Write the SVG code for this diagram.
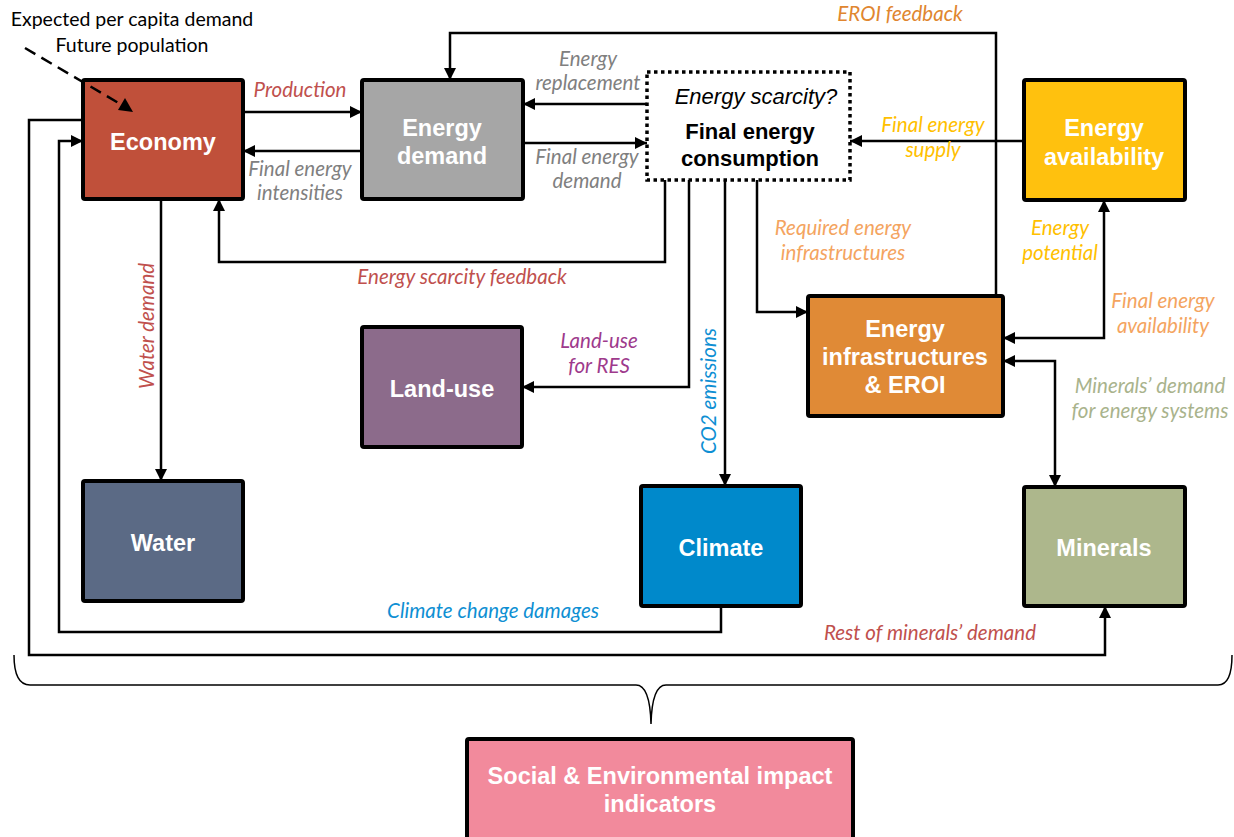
<svg xmlns="http://www.w3.org/2000/svg" width="1234" height="837" viewBox="0 0 1234 837">
<defs>
<marker id="ah" viewBox="0 0 12 12" refX="12" refY="6" markerWidth="12" markerHeight="12" markerUnits="userSpaceOnUse" orient="auto-start-reverse">
<path d="M0,0 L12,6 L0,12 z" fill="#000"/>
</marker>
<style>
.box{stroke:#000;stroke-width:4}
.bt{font-family:"Liberation Sans",Arial,sans-serif;font-weight:bold;font-size:23.5px;fill:#fff;text-anchor:middle}
.lbl{font-family:Lato,"Open Sans",sans-serif;font-style:italic;font-size:20.5px;text-anchor:middle}
.plain{font-family:Lato,"Open Sans",sans-serif;font-size:19.5px;fill:#000;text-anchor:middle}
.ln{fill:none;stroke:#000;stroke-width:2.5}
.red{fill:#C0504D}.gray{fill:#808080}.org{fill:#E0862F}.yel{fill:#FFC000}.lorg{fill:#F4A460}.pur{fill:#9E3A8C}.blu{fill:#0E8FD3}.grn{fill:#A9B38C}
</style>
</defs>
<rect width="1234" height="837" fill="#fff"/>

<g id="connectors">
<path class="ln" marker-end="url(#ah)" d="M243,112 H362"/>
<path class="ln" marker-end="url(#ah)" d="M362,151 H243"/>
<path class="ln" marker-end="url(#ah)" d="M647,104 H523"/>
<path class="ln" marker-end="url(#ah)" d="M523,143 H647"/>
<path class="ln" marker-end="url(#ah)" d="M996,296 V33 H450 V80"/>
<path class="ln" marker-end="url(#ah)" d="M1024,141 H850"/>
<path class="ln" marker-end="url(#ah)" d="M665,180 V262 H219 V199"/>
<path class="ln" marker-end="url(#ah)" d="M161,199 V481"/>
<path class="ln" marker-end="url(#ah)" d="M689,180 V387 H522"/>
<path class="ln" marker-end="url(#ah)" d="M725,180 V486"/>
<path class="ln" marker-end="url(#ah)" d="M757,180 V312 H808"/>
<path class="ln" marker-start="url(#ah)" marker-end="url(#ah)" d="M1003,338 H1104 V200"/>
<path class="ln" marker-start="url(#ah)" marker-end="url(#ah)" d="M1003,361 H1055 V487"/>
<path class="ln" marker-end="url(#ah)" d="M721,606 V632 H59 V141 H83"/>
<path class="ln" marker-end="url(#ah)" d="M83,120 H29 V655 H1105 V606"/>
<path fill="none" stroke="#000" stroke-width="1.5" d="M14,655 Q14,685 30,685 H636 Q650,685 651,724 Q652,685 666,685 H1218 Q1232,685 1232,655"/>
</g>

<text class="plain" x="132" y="26">Expected per capita demand</text>
<text class="plain" x="132" y="52">Future population</text>

<g id="economy"><rect class="box" x="83" y="80" width="160" height="119" rx="2" fill="#C0503A"/><text class="bt" x="163" y="150">Economy</text></g>
<g id="energy-demand"><rect class="box" x="362" y="80" width="161" height="119" rx="2" fill="#A6A6A6"/><text class="bt" x="442" y="136">Energy</text><text class="bt" x="442" y="164">demand</text></g>
<g id="final-energy"><rect x="647" y="72" width="203" height="108" fill="#fff" stroke="#000" stroke-width="3.5" stroke-dasharray="3.5,3.5"/>
<text x="756" y="104" font-family="Liberation Sans,Arial,sans-serif" font-style="italic" font-size="22" text-anchor="middle">Energy scarcity?</text>
<text x="750" y="139" font-family="Liberation Sans,Arial,sans-serif" font-weight="bold" font-size="22" text-anchor="middle">Final energy</text>
<text x="750" y="166" font-family="Liberation Sans,Arial,sans-serif" font-weight="bold" font-size="22" text-anchor="middle">consumption</text></g>
<g id="energy-availability"><rect class="box" x="1024" y="80" width="161" height="120" rx="2" fill="#FFC10E"/><text class="bt" x="1104" y="136">Energy</text><text class="bt" x="1104" y="165">availability</text></g>
<g id="land-use"><rect class="box" x="362" y="327" width="160" height="120" rx="2" fill="#8C6B8B"/><text class="bt" x="442" y="397">Land-use</text></g>
<g id="energy-infra"><rect class="box" x="808" y="296" width="195" height="120" rx="2" fill="#E08A36"/><text class="bt" x="905" y="337">Energy</text><text class="bt" x="905" y="365">infrastructures</text><text class="bt" x="905" y="393">&amp; EROI</text></g>
<g id="water"><rect class="box" x="83" y="481" width="160" height="120" rx="2" fill="#5B6A85"/><text class="bt" x="163" y="551">Water</text></g>
<g id="climate"><rect class="box" x="641" y="486" width="160" height="120" rx="2" fill="#0089CB"/><text class="bt" x="721" y="556">Climate</text></g>
<g id="minerals"><rect class="box" x="1024" y="487" width="161" height="119" rx="2" fill="#ADB78C"/><text class="bt" x="1104" y="556">Minerals</text></g>
<g id="social"><rect class="box" x="467" y="739" width="386" height="102" rx="2" fill="#F28A9C"/><text class="bt" x="660" y="784">Social &amp; Environmental impact</text><text class="bt" x="660" y="812">indicators</text></g>

<g id="input-arrow">
<path fill="none" stroke="#000" stroke-width="2.5" stroke-dasharray="12,7" d="M25,48 L122,105"/>
<path d="M133,112 L118,110 L125,98 z" fill="#000"/>
</g>

<g id="labels">
<text class="lbl red" x="300" y="97">Production</text>
<text class="lbl gray" x="300" y="176">Final energy</text><text class="lbl gray" x="300" y="200">intensities</text>
<text class="lbl gray" x="588" y="66">Energy</text><text class="lbl gray" x="588" y="90">replacement</text>
<text class="lbl gray" x="587" y="164">Final energy</text><text class="lbl gray" x="587" y="188">demand</text>
<text class="lbl org" x="900" y="21">EROI feedback</text>
<text class="lbl yel" x="933" y="132">Final energy</text><text class="lbl yel" x="933" y="157">supply</text>
<text class="lbl red" x="462" y="284">Energy scarcity feedback</text>
<text class="lbl red" transform="translate(154,326) rotate(-90)">Water demand</text>
<text class="lbl pur" x="599" y="348">Land-use</text><text class="lbl pur" x="599" y="373">for RES</text>
<text class="lbl blu" transform="translate(716,391) rotate(-90)">CO2 emissions</text>
<text class="lbl lorg" x="843" y="235">Required energy</text><text class="lbl lorg" x="843" y="260">infrastructures</text>
<text class="lbl yel" x="1060" y="235">Energy</text><text class="lbl yel" x="1060" y="260">potential</text>
<text class="lbl lorg" x="1163" y="308">Final energy</text><text class="lbl lorg" x="1163" y="333">availability</text>
<text class="lbl grn" x="1150" y="393">Minerals’ demand</text><text class="lbl grn" x="1150" y="418">for energy systems</text>
<text class="lbl blu" x="493" y="618">Climate change damages</text>
<text class="lbl red" x="930" y="640">Rest of minerals’ demand</text>
</g>
</svg>
